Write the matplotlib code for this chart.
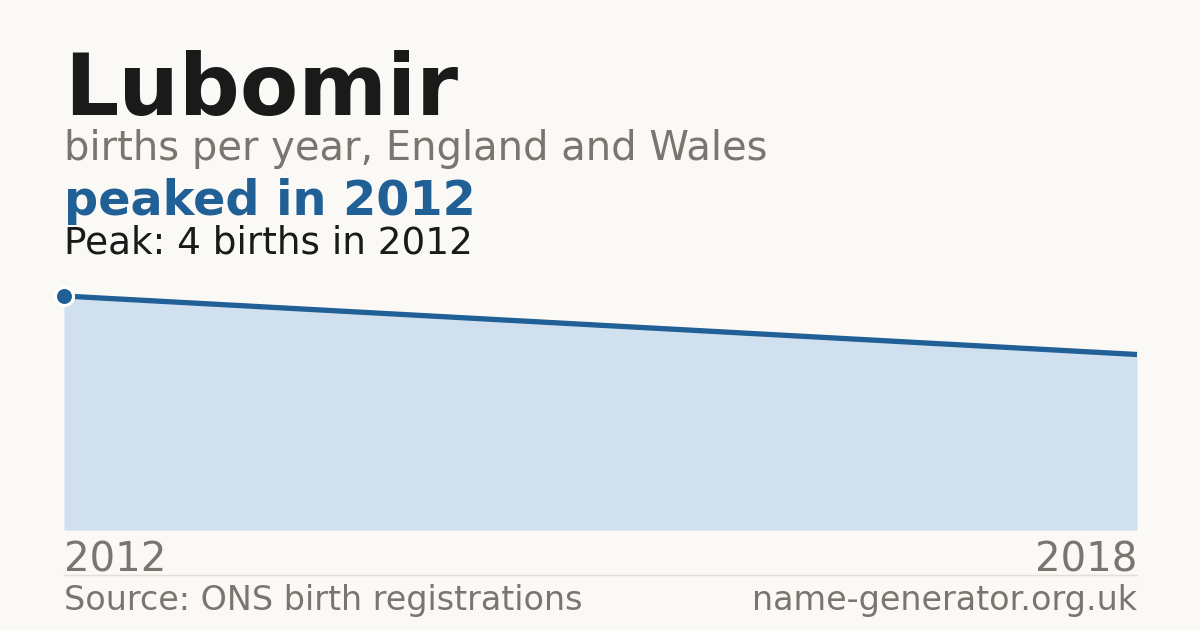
import matplotlib
matplotlib.use("Agg")
import matplotlib.pyplot as plt

years = [2012, 2018]
births = [4, 3]
peak_year = 2012
peak_value = 4
name = "Lubomir"

bg = "#faf9f5"
blue = "#215f97"
fill = "#d0e0ef"
grey = "#7a756e"

fig = plt.figure(figsize=(12, 6.3), dpi=100, facecolor=bg)
ax = fig.add_axes([64/1200, 100/630, 1073/1200, 234/630])
ax.set_facecolor(bg)

ax.fill_between(years, births, 0, color=fill, lw=0)
ax.plot(years, births, color=blue, lw=3.8, solid_capstyle="butt", clip_on=False)
ax.plot([peak_year], [peak_value], "o", ms=13, color=blue, mec="white", mew=2.2,
        clip_on=False, zorder=5)
ax.set_xlim(years[0], years[-1])
ax.set_ylim(0, peak_value)
ax.axis("off")

fig.text(64/1200, 1 - 115/630, name, fontsize=61.3, fontweight="bold", color="#1a1a1a")
fig.text(64/1200, 1 - 160/630, "births per year, England and Wales", fontsize=28.8, color=grey)
fig.text(64/1200, 1 - 215/630, "peaked in 2012", fontsize=34.4, fontweight="bold", color=blue)
fig.text(64/1200, 1 - 254/630, "Peak: 4 births in 2012", fontsize=26.9, color="#1a1a1a")

fig.text(64/1200, 1 - 571/630, str(years[0]), fontsize=29, color=grey)
fig.text(1137/1200, 1 - 571/630, str(years[-1]), fontsize=29, color=grey, ha="right")
fig.add_artist(plt.Line2D([64/1200, 1137/1200], [1 - 575/630] * 2, color="#e2dfd8", lw=1))
fig.text(64/1200, 1 - 610/630, "Source: ONS birth registrations", fontsize=24, color=grey)
fig.text(1137/1200, 1 - 610/630, "name-generator.org.uk", fontsize=24, color=grey, ha="right")

fig.savefig("out.png", dpi=100, facecolor=bg)
